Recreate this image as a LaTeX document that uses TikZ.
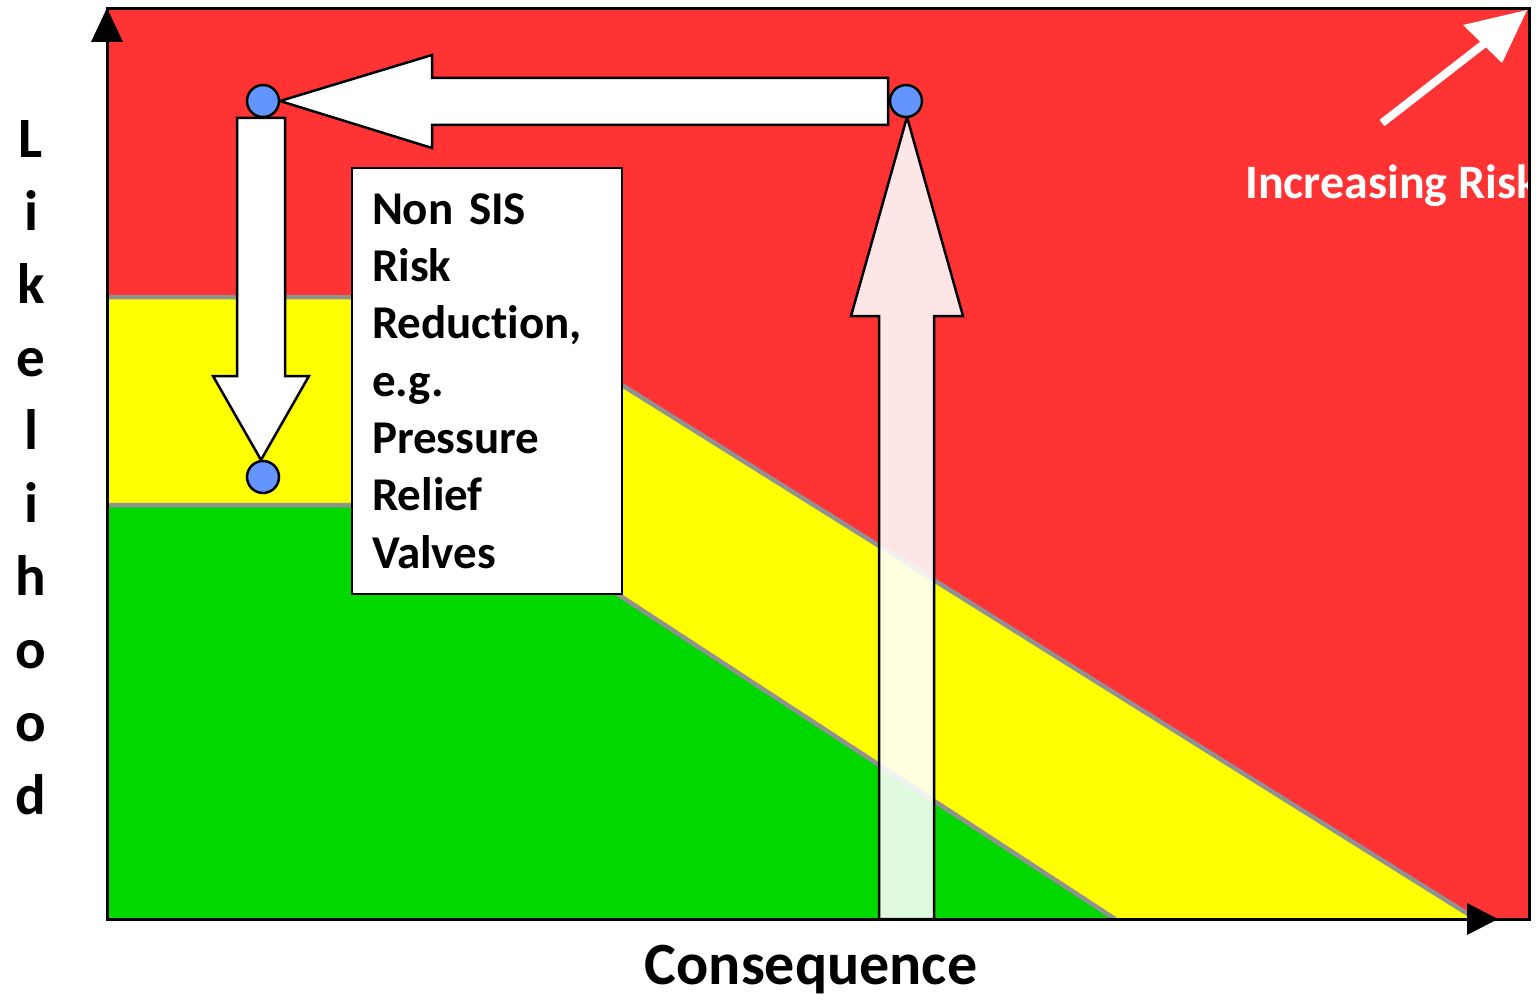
\documentclass[tikz,border=0pt]{standalone}
\usepackage{fontspec}
\setmainfont{Carlito}[Ligatures=NoCommon]
\usetikzlibrary{calc}
\definecolor{riskred}{RGB}{255,51,51}
\definecolor{riskyellow}{RGB}{255,255,0}
\definecolor{riskgreen}{RGB}{0,216,0}
\definecolor{zonegray}{RGB}{145,145,145}
\definecolor{dotblue}{RGB}{100,149,255}
\begin{document}
\begin{tikzpicture}[x=1pt,y=-1pt,
  zoneline/.style={draw=zonegray,line width=4.5pt},
  blockarrow/.style={draw=black,line width=2.5pt,line join=miter,fill=white},
  dot/.style={circle,draw=black,line width=2.5pt,fill=dotblue,minimum size=32pt,inner sep=0pt},
  axishead/.style={fill=black},
  boxtext/.style={font=\fontsize{47}{57.3}\selectfont\bfseries},
  axislabel/.style={font=\fontsize{57}{73}\selectfont\bfseries}]
\useasboundingbox (0,0) rectangle (1536,1000);

% risk zones
\fill[riskred] (107,9) rectangle (1529,919);
\fill[riskyellow] (107,297) -- (481,297) -- (1476,919) -- (107,919) -- cycle;
\fill[riskgreen] (107,505) -- (481,505) -- (1115,919) -- (107,919) -- cycle;
\draw[zoneline] (107,297) -- (481,297) -- (1476,919);
\draw[zoneline] (107,505) -- (481,505) -- (1115,919);

% increasing risk indicator
\coordinate (rs) at (1382,123);
\coordinate (rt) at (1527,10);
\draw[white,line width=8pt] (rs) -- (1485,43);
\fill[white] (rt) -- (1463,25) -- (1502,63) -- cycle;
\node[white,anchor=base west,font=\fontsize{48}{58}\selectfont\bfseries,inner sep=0pt]
  (inc) at (1245,199) {Increasing Risk};

% frame and axes
\draw[line width=3pt] (107,9) rectangle (1529,919);
\fill[axishead] (107,8) -- (91,42) -- (123,42) -- cycle;
\fill[axishead] (1498,919) -- (1467,903) -- (1467,935) -- cycle;

% dot positions
\coordinate (c1) at (263,101);
\coordinate (c2) at (906,101);
\coordinate (c3) at (263,477);

% block arrows
\draw[blockarrow,fill opacity=0.88] (879,919) -- (879,316) -- (851,316) -- (907,117)
  -- (963,316) -- (934,316) -- (934,919) -- cycle;
\draw[blockarrow] (888,78) -- (432,78) -- (432,55) -- (280,101) -- (432,148)
  -- (432,125) -- (888,125) -- cycle;
\draw[blockarrow] (237,118) -- (237,376) -- (213,376) -- (261,460) -- (309,376)
  -- (285,376) -- (285,118) -- cycle;

\node[dot] (p1) at (c1) {};
\node[dot] (p2) at (c2) {};
\node[dot] (p3) at (c3) {};

% description box
\node[draw=black,line width=2pt,fill=white,boxtext,align=left,text width=230pt,
  inner xsep=20pt,inner ysep=0pt,minimum height=426pt] (box) at (487,381)
  {Non SIS\\Risk\\Reduction,\\e.g.\\Pressure\\Relief\\Valves};

% axis labels
\node[axislabel,align=center,inner sep=0pt] (ylab) at (31,468)
  {L\\i\\k\\e\\l\\i\\h\\o\\o\\d};
\node[axislabel,anchor=base,font=\fontsize{60}{72}\selectfont\bfseries,inner sep=0pt]
  (xlab) at (811,984) {Consequence};
\end{tikzpicture}
\end{document}
